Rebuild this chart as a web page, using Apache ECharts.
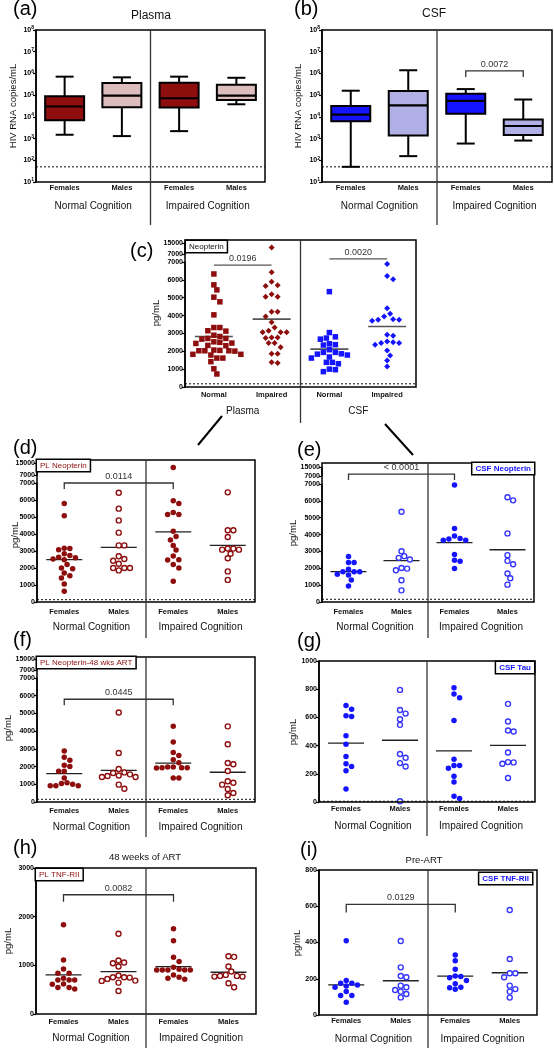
<!DOCTYPE html>
<html><head><meta charset="utf-8">
<script src="https://cdn.jsdelivr.net/npm/echarts@6/dist/echarts.min.js"></script>
<style>html,body{margin:0;padding:0;background:#fff}#c{width:554px;height:1050px}</style>
</head><body><div id="c"></div>
<script>
// ---------------- DATA ----------------
const sexCats = ['Females', 'Males', 'Females', 'Males'];
const cogGroups = ['Normal Cognition', 'Impaired Cognition'];
const cCats = ['Normal', 'Impaired', 'Normal', 'Impaired'];
const cGroups = ['Plasma', 'CSF'];
const logTicks = [10, 100, 1000, 10000, 100000, 1000000, 10000000, 100000000];

// (a) plasma HIV RNA boxplots: [min, Q1, median, Q3, max]
const plasmaRNA = [
  [1500, 6900, 30000, 89000, 710000],
  [1300, 28000, 95000, 360000, 660000],
  [2200, 27000, 72000, 370000, 710000],
  [38000, 59000, 95000, 300000, 630000]
];
// (b) CSF HIV RNA boxplots
const csfRNA = [
  [50, 6200, 12600, 32000, 160000],
  [155, 1400, 34000, 156000, 1400000],
  [590, 14000, 55000, 117000, 190000],
  [810, 1450, 3800, 7600, 63000]
];
const rnaLOD = 50;

// (c) Neopterin by cognition
const cPlasmaNormal = [6330, 5720, 5440, 5030, 4770, 4040, 3330, 3330, 3130, 3150, 2900, 2830, 2720, 2720, 2680, 2530, 2500, 2460, 2440, 2330, 2310, 2070, 2050, 2030, 2030, 2030, 2010, 1830, 1830, 1790, 1620, 1620, 1420, 1020, 730];
const cPlasmaImpaired = [11700, 6420, 5900, 5700, 5650, 5200, 5050, 5050, 4220, 4220, 3950, 3630, 3330, 3070, 3070, 3070, 3150, 2770, 2770, 2740, 2460, 2460, 2230, 1860, 1860, 1340, 1380];
const cCsfNormal = [5340, 3050, 2810, 2740, 2680, 2420, 2370, 2350, 2090, 1940, 1940, 1860, 1840, 1790, 1680, 1620, 1380, 1380, 1300, 1000, 970, 860];
const cCsfImpaired = [6890, 6220, 6030, 4410, 4100, 3950, 3800, 3760, 3760, 3710, 2920, 2870, 2550, 2500, 2460, 2460, 2370, 2050, 1770, 1490, 1150];
const cMedians = [2830, 3800, 2120, 3390];

// (d) PL Neopterin
const dFN = [5800, 5080, 3160, 3140, 3080, 2840, 2740, 2630, 2610, 2530, 2490, 2200, 2000, 1960, 1710, 1550, 1410, 1060, 630];
const dMN = [6430, 5490, 4800, 4080, 3330, 3330, 2690, 2530, 2430, 2250, 2000, 2000, 2000, 1860];
const dFI = [12000, 5960, 5800, 5270, 5140, 5140, 4160, 3860, 3650, 3330, 3060, 2710, 2490, 2470, 2200, 2000, 1220];
const dMI = [6450, 4220, 4220, 3820, 3150, 3080, 3080, 3140, 2840, 2570, 1800, 1300];
const dMedians = [2490, 3210, 4130, 3330];

// (e) CSF Neopterin
const eFN = [2700, 2350, 2350, 1950, 1800, 1800, 1800, 1650, 1600, 1300, 950];
const eMN = [5350, 3010, 2720, 2620, 2520, 2020, 1880, 1980, 1290, 690];
const eFI = [6940, 4360, 3770, 3670, 3670, 3730, 3910, 2820, 2420, 2480, 1980];
const eMI = [6210, 6030, 4070, 2780, 2440, 2240, 1690, 1410, 1030];
const eMedians = [1800, 2450, 3520, 3100];

// (f) PL Neopterin 48 wks ART
const fFN = [2880, 2520, 2350, 2070, 2010, 1730, 1730, 1350, 1040, 920, 920, 920, 1000, 1080];
const fMN = [5050, 2770, 1860, 1640, 1500, 1410, 1410, 1470, 1560, 1670, 980, 750];
const fFI = [4270, 3390, 2790, 2630, 2390, 2220, 1980, 1920, 1940, 1940, 1940, 1980, 1360, 1360];
const fMI = [4270, 3260, 2200, 2130, 1750, 1170, 1090, 980, 730, 510, 380];
const fMedians = [1600, 1790, 2200, 1680];

// (g) CSF Tau
const gFN = [684, 658, 606, 611, 469, 410, 323, 271, 252, 222, 92];
const gMN = [795, 653, 627, 587, 547, 340, 314, 276, 252, 5];
const gFI = [811, 766, 740, 578, 304, 259, 240, 259, 182, 141, 40, 24];
const gMI = [696, 571, 507, 500, 351, 281, 271, 283, 170];
const gMedians = [417, 438, 363, 401];

// (h) PL TNF-RII (48 weeks of ART)
const hFN = [1833, 1112, 927, 837, 837, 734, 700, 700, 700, 618, 611, 542, 515, 542];
const hMN = [1648, 1098, 1043, 975, 1057, 755, 755, 790, 721, 748, 686, 680, 645, 474];
const hFI = [1751, 1503, 1167, 1078, 961, 906, 906, 920, 906, 906, 906, 755, 803, 714, 735];
const hMI = [1188, 1174, 975, 872, 783, 783, 769, 769, 803, 549, 632];
const hMedians = [803, 872, 975, 858];

// (i) CSF TNF-RII (Pre-ART)
const iFN = [410, 190, 175, 175, 165, 160, 153, 130, 107, 107, 70];
const iMN = [408, 263, 215, 208, 162, 153, 138, 129, 116, 97];
const iFI = [331, 300, 252, 215, 213, 206, 191, 173, 153, 151, 142];
const iMI = [579, 309, 230, 230, 208, 162, 143, 129, 96];
const iMedians = [166, 189, 215, 233];

// significance annotations [fromCat, toCat, yValue, label]
const bracketB = [2, 3, 1300000, '0.0072'];
const bracketC1 = [0, 1, 6830, '0.0196'];
const bracketC2 = [2, 3, 7170, '0.0020'];
const bracketD = [0, 2, 7000, '0.0114'];
const bracketE = [0, 2, 8700, '< 0.0001'];
const bracketF = [0, 2, 5800, '0.0445'];
const bracketH = [0, 2, 2450, '0.0082'];
const bracketI = [0, 2, 610, '0.0129'];

// ---------------- BUILD ----------------
const FONT = '"Liberation Sans", Arial, Helvetica, sans-serif';
const RED = '#8e0d0d', BLUE = '#1414ff', BLUE2 = '#3535ff';
const option = { animation: false, backgroundColor: '#ffffff', grid: [], xAxis: [], yAxis: [], series: [], graphic: [] };

function addGrid(x0, y0, x1, y1) {
  option.grid.push({ left: x0, top: y0, width: x1 - x0, height: y1 - y0, show: false });
  return option.grid.length - 1;
}
function addXVal(g) {
  option.xAxis.push({ type: 'value', gridIndex: g, min: -0.5, max: 3.5, show: false, axisLine: { onZero: false } });
  return option.xAxis.length - 1;
}
function addXCat(g, data, margin, size, bold) {
  option.xAxis.push({
    type: 'category', gridIndex: g, data: data, position: 'bottom', boundaryGap: true,
    axisLine: { show: false, onZero: false }, axisTick: { show: false }, splitLine: { show: false },
    axisLabel: { interval: 0, margin: margin, fontSize: size, fontWeight: bold ? 'bold' : 'normal', color: '#111', fontFamily: FONT }
  });
  return option.xAxis.length - 1;
}
function yBase(g) {
  return {
    gridIndex: g, splitLine: { show: false },
    axisLine: { show: true, onZero: false, lineStyle: { color: '#000', width: 1.5 } },
    axisTick: { show: true, length: 3, lineStyle: { color: '#000', width: 1.2 } },
    axisLabel: { fontSize: 7, fontWeight: 'bold', color: '#000', margin: 2, fontFamily: FONT, formatter: v => String(v) }
  };
}
function addYLin(g, min, max, interval) {
  const y = yBase(g); y.type = 'value'; y.min = min; y.max = max; y.interval = interval;
  option.yAxis.push(y); return option.yAxis.length - 1;
}
function addYBreak(g, min, max) {
  const y = yBase(g); y.type = 'value'; y.min = min; y.max = max;
  y.axisLabel.customValues = [min, max];
  y.axisTick.customValues = [min, max];
  option.yAxis.push(y); return option.yAxis.length - 1;
}
function addYLog(g) {
  const y = yBase(g); y.type = 'log'; y.logBase = 10; y.min = logTicks[0]; y.max = logTicks[logTicks.length - 1];
  y.axisLabel.customValues = logTicks; y.axisTick.customValues = logTicks;
  y.axisLabel.formatter = v => '{b|10}{s|' + Math.round(Math.log10(v)) + '}';
  y.axisLabel.rich = {
    b: { fontSize: 7, fontWeight: 'bold', fontFamily: FONT, color: '#000' },
    s: { fontSize: 5, fontWeight: 'bold', fontFamily: FONT, color: '#000', padding: [0, 0, 4, 0] }
  };
  option.yAxis.push(y); return option.yAxis.length - 1;
}

function swarm(vals, ppu, d) {
  const order = vals.map((v, i) => i).sort((a, b) => vals[b] - vals[a]);
  const placed = [], off = [];
  order.forEach(i => {
    const y = vals[i] * ppu;
    let best = 0;
    for (let k = 0; k < 80; k++) {
      const o = k === 0 ? 0 : (k % 2 ? 1 : -1) * Math.ceil(k / 2) * d * 0.5;
      if (placed.every(p => (p.x - o) * (p.x - o) + (p.y - y) * (p.y - y) >= d * d * 0.92)) { best = o; break; }
    }
    placed.push({ x: best, y: y }); off[i] = best;
  });
  return off;
}

function scatterSeries(xi, yi, data, st) {
  return {
    type: 'scatter', xAxisIndex: xi, yAxisIndex: yi, data: data, symbol: st.symbol, symbolSize: st.size,
    itemStyle: st.open ? { color: '#fff', borderColor: st.color, borderWidth: 1.4, opacity: 1 } : { color: st.color, opacity: 1 },
    silent: true, z: 5
  };
}
function medianSeries(xi, yi, meds, hw, color, lw) {
  return {
    type: 'custom', xAxisIndex: xi, yAxisIndex: yi, silent: true, z: 4,
    data: meds.map((m, i) => [i, m]),
    renderItem: (p, api) => {
      const pt = api.coord([api.value(0), api.value(1)]);
      return { type: 'line', shape: { x1: pt[0] - hw, y1: pt[1], x2: pt[0] + hw, y2: pt[1] }, style: { stroke: color, lineWidth: lw } };
    }
  };
}
function lodSeries(xi, yi, v) {
  return {
    type: 'line', xAxisIndex: xi, yAxisIndex: yi, data: [[-0.5, v], [3.5, v]], symbol: 'none', silent: true, z: 2,
    lineStyle: { color: '#222', width: 1.1, type: [2, 2] }
  };
}
function bracketSeries(xi, yi, b, drop, color) {
  return {
    type: 'custom', xAxisIndex: xi, yAxisIndex: yi, silent: true, z: 6,
    data: [[b[0], b[1], b[2]]],
    renderItem: (p, api) => {
      const a = api.coord([api.value(0), api.value(2)]);
      const e = api.coord([api.value(1), api.value(2)]);
      return {
        type: 'group', children: [
          { type: 'polyline', shape: { points: [[a[0], a[1] + drop], [a[0], a[1]], [e[0], e[1]], [e[0], e[1] + drop]] },
            style: { stroke: color, lineWidth: 1.3, fill: 'none' } },
          { type: 'text', x: (a[0] + e[0]) / 2, y: a[1] - 2,
            style: { text: b[3], align: 'center', verticalAlign: 'bottom', font: '9px ' + FONT, fill: '#333' } }
        ]
      };
    }
  };
}
function gText(txt, x, y, size, opts) {
  opts = opts || {};
  option.graphic.push({
    type: 'text', x: x, y: y, rotation: opts.rot || 0, z: 20,
    style: { text: txt, font: (opts.weight || 'normal') + ' ' + size + 'px ' + FONT, fill: opts.color || '#111',
      align: opts.align || 'center', verticalAlign: opts.va || 'middle' }
  });
}
function gLine(x1, y1, x2, y2, w, color) {
  option.graphic.push({ type: 'line', z: 20, shape: { x1: x1, y1: y1, x2: x2, y2: y2 }, style: { stroke: color || '#000', lineWidth: w } });
}
function gFrame(x0, y0, x1, y1) {
  option.graphic.push({ type: 'rect', z: 19, shape: { x: x0, y: y0, width: x1 - x0, height: y1 - y0 }, style: { fill: 'none', stroke: '#000', lineWidth: 1.5 } });
}
function gBox(txt, x, y, color, right, bold) {
  option.graphic.push({
    type: 'text', x: x, y: y, z: 21,
    style: { text: txt, font: (bold ? 'bold ' : '') + '8px ' + FONT, fill: color, align: right ? 'right' : 'left', verticalAlign: 'top',
      backgroundColor: '#fff', borderColor: '#000', borderWidth: 1.5, padding: [2, 3, 1, 3] }
  });
}

// ----- box plot panels -----
function boxPanel(c) {
  const [x0, y0, x1, y1] = c.frame;
  const g = addGrid(x0, y0, x1, y1);
  const xv = addXVal(g);
  addXCat(g, sexCats, 2, 7.5, true);
  addXCat(g, cogGroups, 19, 10, false);
  const yi = addYLog(g);
  option.series.push({
    type: 'custom', xAxisIndex: xv, yAxisIndex: yi, silent: true, z: 5,
    data: c.data.map((b, i) => [i].concat(b)),
    encode: { x: 0, y: [1, 2, 3, 4, 5] },
    renderItem: (p, api) => {
      const xc = api.value(0);
      const pts = [1, 2, 3, 4, 5].map(d => api.coord([xc, api.value(d)]));
      const cx = pts[0][0], hw = 19.5, cap = 9;
      const [yMin, yQ1, yMed, yQ3, yMax] = pts.map(q => q[1]);
      const ls = { stroke: '#000', lineWidth: 2 };
      return {
        type: 'group', children: [
          { type: 'line', shape: { x1: cx, y1: yMax, x2: cx, y2: yQ3 }, style: ls },
          { type: 'line', shape: { x1: cx, y1: yQ1, x2: cx, y2: yMin }, style: ls },
          { type: 'line', shape: { x1: cx - cap, y1: yMax, x2: cx + cap, y2: yMax }, style: ls },
          { type: 'line', shape: { x1: cx - cap, y1: yMin, x2: cx + cap, y2: yMin }, style: ls },
          { type: 'rect', shape: { x: cx - hw, y: yQ3, width: 2 * hw, height: yQ1 - yQ3 }, style: { fill: c.fills[p.dataIndex], stroke: '#000', lineWidth: 2 } },
          { type: 'line', shape: { x1: cx - hw, y1: yMed, x2: cx + hw, y2: yMed }, style: { stroke: '#000', lineWidth: 2.2 } }
        ]
      };
    }
  });
  option.series.push(lodSeries(xv, yi, rnaLOD));
  if (c.bracket) option.series.push(bracketSeries(xv, yi, c.bracket, 6, '#333'));
  gFrame(x0, y0, x1, y1);
  const mid = (x0 + x1) / 2;
  gLine(mid, y0, mid, c.divBottom, 1.3, '#333');
  gText('HIV RNA copies/mL', c.nameX, (y0 + y1) / 2, 9.5, { rot: Math.PI / 2 });
}

// ----- scatter panels -----
function scatterPanel(c) {
  const [x0, fy0, x1, fy1] = c.frame;
  const band = (x1 - x0) / 4;
  const lowTop = c.lower.top;
  const gL = addGrid(x0, lowTop, x1, fy1);
  const xvL = addXVal(gL);
  addXCat(gL, c.cats, c.catMargin, 7.5, true);
  addXCat(gL, c.groups, c.grpMargin, 10, false);
  const yL = addYLin(gL, 0, c.lower.max, c.lower.interval);
  const pxL = (fy1 - lowTop) / c.lower.max;
  let xvU, yU, pxU;
  if (c.upper) {
    const gU = addGrid(x0, c.upper.top, x1, c.upper.bottom);
    xvU = addXVal(gU);
    yU = addYBreak(gU, c.lower.max, c.upper.max);
    pxU = (c.upper.bottom - c.upper.top) / (c.upper.max - c.lower.max);
  }
  c.sets.forEach((vals, k) => {
    const st = c.styles[k];
    const lo = vals.filter(v => v <= c.lower.max);
    const hi = vals.filter(v => v > c.lower.max);
    const oL = swarm(lo, pxL, c.d);
    option.series.push(scatterSeries(xvL, yL, lo.map((v, i) => [k + oL[i] / band, v]), st));
    if (hi.length && c.upper) {
      const oU = swarm(hi.map(v => v - c.lower.max), pxU, c.d);
      option.series.push(scatterSeries(xvU, yU, hi.map((v, i) => [k + oU[i] / band, v]), st));
    }
  });
  option.series.push(medianSeries(xvL, yL, c.medians, c.medHalf, c.medColor || '#222', c.medW || 1.3));
  if (c.lod != null) option.series.push(lodSeries(xvL, yL, c.lod));
  (c.brackets || []).forEach(b => {
    const up = c.upper && b.b[2] > c.lower.max && b.upper;
    option.series.push(bracketSeries(up ? xvU : xvL, up ? yU : yL, b.b, b.drop, b.color || '#333'));
  });
  gFrame(x0, fy0, x1, fy1);
  const mid = (x0 + x1) / 2;
  gLine(mid, fy0, mid, c.divBottom, 1.3, '#333');
  gText('pg/mL', c.name[0], c.name[1], 9.5, { rot: Math.PI / 2 });
  if (c.box) gBox(c.box.t, c.box.x, c.box.y, c.box.color, c.box.right, c.box.bold);
}

const redFill = { symbol: 'circle', size: 5.5, color: RED };
const redOpen = { symbol: 'circle', size: 5, color: RED, open: true };
const blueFill = { symbol: 'circle', size: 5.5, color: BLUE };
const blueOpen = { symbol: 'circle', size: 5, color: BLUE2, open: true };

// (a)
boxPanel({ frame: [36, 30, 265, 182], data: plasmaRNA, fills: [RED, '#dcbcbc', RED, '#dcbcbc'], divBottom: 225, nameX: 13 });
// (b)
boxPanel({ frame: [322, 30, 552, 182], data: csfRNA, fills: [BLUE, '#b0b0e6', BLUE, '#b0b0e6'], divBottom: 225, nameX: 298, bracket: bracketB });

// (c)
scatterPanel({
  frame: [185, 240, 416, 387], upper: { top: 243, bottom: 254, max: 15000 }, lower: { top: 262, max: 7000, interval: 1000 },
  cats: cCats, groups: cGroups, catMargin: 4, grpMargin: 19, d: 6,
  sets: [cPlasmaNormal, cPlasmaImpaired, cCsfNormal, cCsfImpaired],
  styles: [{ symbol: 'rect', size: 5.5, color: RED }, { symbol: 'diamond', size: 6, color: RED },
           { symbol: 'rect', size: 5.5, color: BLUE }, { symbol: 'diamond', size: 6, color: BLUE }],
  medians: cMedians, medHalf: 19, medColor: '#555', medW: 1.6, lod: 180,
  brackets: [{ b: bracketC1, drop: 0, color: '#555' }, { b: bracketC2, drop: 0, color: '#555' }],
  divBottom: 423, name: [156, 313], box: { t: 'Neopterin', x: 186, y: 241, color: '#111' }
});
// (d)
scatterPanel({
  frame: [37, 460, 255, 602], upper: { top: 463, bottom: 475, max: 15000 }, lower: { top: 483, max: 7000, interval: 1000 },
  cats: sexCats, groups: cogGroups, catMargin: 6, grpMargin: 20, d: 5.6,
  sets: [dFN, dMN, dFI, dMI], styles: [redFill, redOpen, redFill, redOpen],
  medians: dMedians, medHalf: 18, lod: 140, brackets: [{ b: bracketD, drop: 6 }],
  divBottom: 638, name: [15, 535], box: { t: 'PL Neopterin', x: 37, y: 460, color: RED }
});
// (e)
scatterPanel({
  frame: [322, 463, 534, 602], upper: { top: 467, bottom: 476, max: 15000 }, lower: { top: 484, max: 7000, interval: 1000 },
  cats: sexCats, groups: cogGroups, catMargin: 6, grpMargin: 20, d: 5.6,
  sets: [eFN, eMN, eFI, eMI], styles: [blueFill, blueOpen, blueFill, blueOpen],
  medians: eMedians, medHalf: 18, lod: 160, brackets: [{ b: bracketE, drop: 6, upper: true }],
  divBottom: 638, name: [293, 533], box: { t: 'CSF Neopterin', x: 534, y: 463, color: BLUE, right: true, bold: true }
});
// (f)
scatterPanel({
  frame: [37, 657, 255, 802], upper: { top: 659, bottom: 670, max: 15000 }, lower: { top: 678, max: 7000, interval: 1000 },
  cats: sexCats, groups: cogGroups, catMargin: 5, grpMargin: 20, d: 5.6,
  sets: [fFN, fMN, fFI, fMI], styles: [redFill, redOpen, redFill, redOpen],
  medians: fMedians, medHalf: 18, lod: 150, brackets: [{ b: bracketF, drop: 6 }],
  divBottom: 837, name: [8, 728], box: { t: 'PL Neopterin-48 wks ART', x: 37, y: 657, color: RED }
});
// (g)
scatterPanel({
  frame: [319, 661, 535, 802], lower: { top: 661, max: 1000, interval: 200 },
  cats: sexCats, groups: cogGroups, catMargin: 3, grpMargin: 19, d: 5.6,
  sets: [gFN, gMN, gFI, gMI], styles: [blueFill, blueOpen, blueFill, blueOpen],
  medians: gMedians, medHalf: 18, lod: 5,
  divBottom: 836, name: [293, 732], box: { t: 'CSF Tau', x: 534, y: 662, color: BLUE, right: true, bold: true }
});
// (h)
scatterPanel({
  frame: [36, 868, 256, 1014], lower: { top: 868, max: 3000, interval: 1000 },
  cats: sexCats, groups: cogGroups, catMargin: 4, grpMargin: 19, d: 5.6,
  sets: [hFN, hMN, hFI, hMI], styles: [redFill, redOpen, redFill, redOpen],
  medians: hMedians, medHalf: 18, lod: null, brackets: [{ b: bracketH, drop: 7 }],
  divBottom: 1048, name: [8, 941], box: { t: 'PL TNF-RII', x: 36, y: 869, color: RED }
});
// (i)
scatterPanel({
  frame: [319, 870, 537, 1015], lower: { top: 870, max: 800, interval: 200 },
  cats: sexCats, groups: cogGroups, catMargin: 2, grpMargin: 19, d: 5.6,
  sets: [iFN, iMN, iFI, iMI], styles: [blueFill, blueOpen, blueFill, blueOpen],
  medians: iMedians, medHalf: 18, lod: null, brackets: [{ b: bracketI, drop: 8 }],
  divBottom: 1048, name: [297, 943], box: { t: 'CSF TNF-RII', x: 532, y: 873, color: BLUE, right: true, bold: true }
});

// titles and panel letters
gText('Plasma', 151, 16, 12);
gText('CSF', 434, 14, 12);
gText('48 weeks of ART', 145, 857, 9.5);
gText('Pre-ART', 424, 860, 9.5);
[['(a)', 13, -1], ['(b)', 294, -1], ['(c)', 130, 241], ['(d)', 13, 438], ['(e)', 297, 440],
 ['(f)', 13, 630], ['(g)', 297, 631], ['(h)', 13, 838], ['(i)', 300, 840]].forEach(t =>
  gText(t[0], t[1], t[2], 20, { align: 'left', va: 'top', color: '#000' }));
// connector lines from (c) to (d) and (e)
gLine(222, 416, 198, 445, 2, '#000');
gLine(385, 424, 413, 455, 2, '#000');

const chart = echarts.init(document.getElementById('c'), null, { renderer: 'canvas' });
chart.setOption(option);
</script></body></html>
